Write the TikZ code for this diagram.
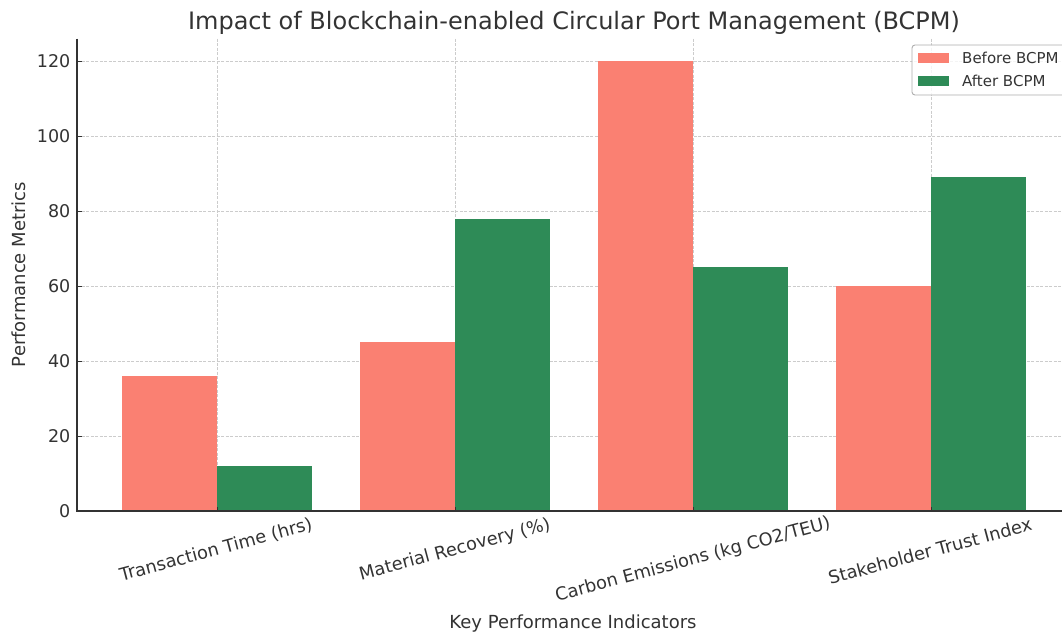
\documentclass[tikz,border=0pt]{standalone}
\usepackage{fontspec}
\setmainfont{DejaVu Sans}

\definecolor{before}{RGB}{250,128,114}
\definecolor{after}{RGB}{46,139,87}
\definecolor{ink}{RGB}{51,51,51}
\definecolor{gridgray}{RGB}{204,204,204}

\tikzset{
  gridline/.style={gridgray, line width=0.8pt, dash pattern={on 3pt off 1.5pt}},
  spine/.style={ink, line width=1.25pt},
  ticklabel/.style={text=ink, inner sep=0pt, font=\fontsize{17.5}{21}\selectfont},
  catlabel/.style={text=ink, inner sep=0pt, rotate=15, font=\fontsize{17.8}{21}\selectfont},
  axislabel/.style={text=ink, inner sep=0pt, font=\fontsize{18}{22}\selectfont},
  legendtext/.style={text=ink, inner sep=0pt, font=\fontsize{15}{18}\selectfont},
}

\begin{document}
\begin{tikzpicture}[x=1pt,y=1pt,yscale=-1,xscale=1]
        \useasboundingbox (0,0) rectangle (1062,635);
        \clip (0,0) rectangle (1062,635);

        %Grid Lines
        \foreach \v in {20,40,...,120}
            \draw [gridline] (77,511-\v*3.75) -- (1071,511-\v*3.75);
        \foreach \i in {0,...,3}
            \draw [gridline] (217+238*\i,38.5) -- (217+238*\i,511);

        %Bars (before / after)
        \foreach \i/\b/\a in {0/36/12, 1/45/78, 2/120/65, 3/60/89} {
            \fill [before] (217+238*\i-95.2,511) rectangle (217+238*\i,511-\b*3.75);
            \fill [after] (217+238*\i,511) rectangle (217+238*\i+95.2,511-\a*3.75);
        }

        %Axes
        \draw [spine] (77,38.5) -- (77,511) -- (1071,511);
        \foreach \i in {0,...,3}
            \draw [ink, line width=1pt] (217+238*\i,511) -- ++(0,-4.5);
        \foreach \v in {0,20,...,120} {
            \draw [ink, line width=1pt] (77,511-\v*3.75) -- ++(4.5,0);
            \node [ticklabel, anchor=east] at (70.5,511-\v*3.75) {\v};
        }

        % Text Node
        \node [catlabel] at (216,550) {Transaction Time (hrs)};
        % Text Node
        \node [catlabel] at (455,550) {Material Recovery (\%)};
        % Text Node
        \node [catlabel] at (693,560) {Carbon Emissions (kg CO2/TEU)};
        % Text Node
        \node [catlabel] at (930,551) {Stakeholder Trust Index};

        % Text Node
        \node [axislabel, anchor=base] at (573,628) {Key Performance Indicators};
        % Text Node
        \node [axislabel, rotate=90, anchor=base] at (25,274.5) {Performance Metrics};
        % Text Node
        \node [text=ink, inner sep=0pt, anchor=base, font=\fontsize{24}{28}\selectfont] at (574,29) {Impact of Blockchain-enabled Circular Port Management (BCPM)};

        %Legend
        \draw [draw=gridgray!85!black, line width=0.9pt, fill=white, fill opacity=0.8, rounded corners=3pt] (912,45) rectangle (1080,95);
        \fill [before] (918,53) rectangle (949,63);
        \fill [after] (918,76) rectangle (949,86);
        \node [legendtext, anchor=west] at (962,58) {Before BCPM};
        \node [legendtext, anchor=west] at (962,81) {After BCPM};

\end{tikzpicture}
\end{document}
